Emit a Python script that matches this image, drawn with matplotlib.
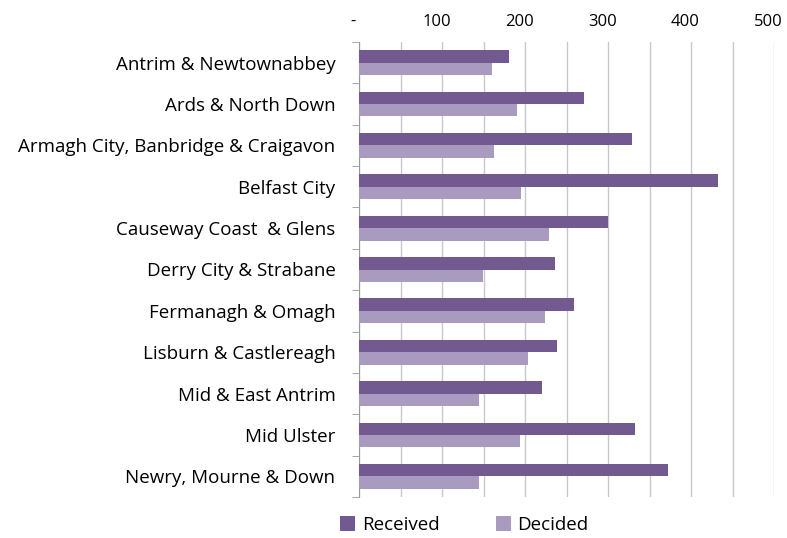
import matplotlib.pyplot as plt
import matplotlib.transforms as mtransforms
import numpy as np

councils = ["Antrim & Newtownabbey", "Ards & North Down",
            "Armagh City, Banbridge & Craigavon", "Belfast City",
            "Causeway Coast  & Glens", "Derry City & Strabane",
            "Fermanagh & Omagh", "Lisburn & Castlereagh",
            "Mid & East Antrim", "Mid Ulster", "Newry, Mourne & Down"]
received = [181, 271, 329, 433, 300, 236, 259, 239, 220, 333, 372]
decided = [160, 190, 163, 195, 229, 149, 224, 204, 145, 194, 145]

plt.rcParams['font.family'] = ['Open Sans', 'DejaVu Sans']

fig = plt.figure(figsize=(7.87, 5.38), dpi=100)
ax = fig.add_axes([359/787, 1 - 497/538, 415/787, 455/538])

y = np.arange(len(councils))
h = 0.3
ax.barh(y - h/2, received, height=h, color='#72598F', label='Received', zorder=3)
ax.barh(y + h/2, decided, height=h, color='#A99BC0', label='Decided', zorder=3)

ax.set_xlim(0, 500)
ax.set_ylim(len(councils) - 0.5, -0.5)
ax.set_xticks([0, 100, 200, 300, 400, 500])
ax.set_xticklabels(['-', '100', '200', '300', '400', '500'])
ax.set_xticks(np.arange(50, 500, 100), minor=True)
ax.xaxis.tick_top()
ax.tick_params(axis='x', which='both', length=0, labelsize=12, pad=9)
ax.grid(axis='x', which='both', color='#C8C8C8', linewidth=1, zorder=0)
shift = mtransforms.ScaledTranslation(-4/72, 0, fig.dpi_scale_trans)
for lbl in ax.get_xticklabels():
    lbl.set_transform(lbl.get_transform() + shift)

ax.set_yticks(y)
ax.set_yticklabels(councils, fontsize=13.5)
ax.set_yticks(np.arange(-0.5, len(councils)), minor=True)
ax.tick_params(axis='y', which='major', length=0, pad=17)
ax.tick_params(axis='y', which='minor', length=5, color='#999999', direction='out')

for s in ['right', 'bottom', 'top']:
    ax.spines[s].set_visible(False)
ax.spines['left'].set_color('#999999')

fig.legend(loc='lower center', ncol=2, frameon=False, fontsize=13.5,
           bbox_to_anchor=(0.59, -0.024), handlelength=0.8, handleheight=0.8,
           columnspacing=3.0, handletextpad=0.35)

fig.savefig('out.png')
